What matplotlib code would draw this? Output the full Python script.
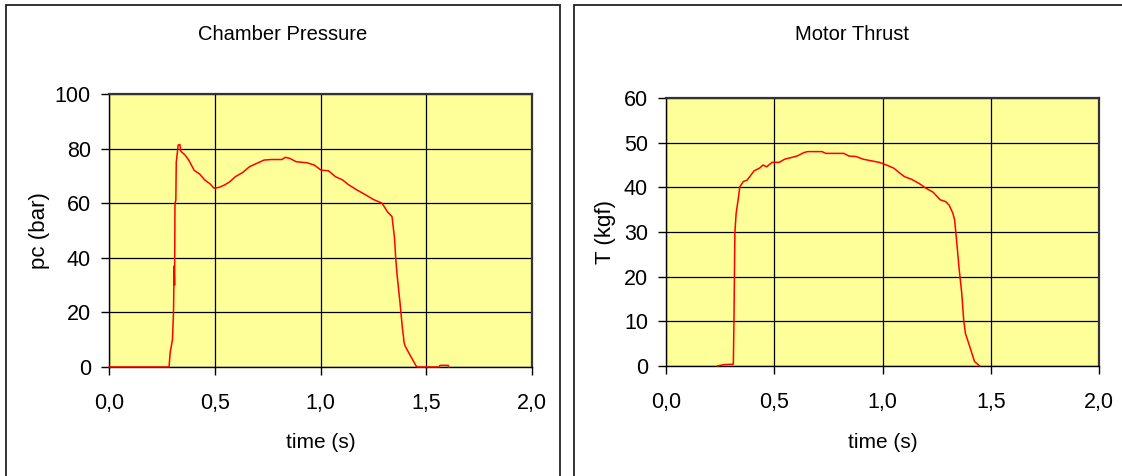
import matplotlib
matplotlib.use("Agg")
import matplotlib.pyplot as plt
from matplotlib.patches import Rectangle

# chamber pressure trace
pc_time = [0.0, 0.284, 0.289, 0.300, 0.305, 0.308, 0.310, 0.311, 0.312, 0.316, 0.318,
           0.327, 0.335, 0.340, 0.360, 0.377, 0.403, 0.428, 0.453, 0.479, 0.496,
           0.521, 0.547, 0.572, 0.597, 0.631, 0.665, 0.699, 0.733, 0.767, 0.817,
           0.834, 0.855, 0.885, 0.936, 0.970, 1.003, 1.037, 1.071, 1.105, 1.130,
           1.173, 1.215, 1.249, 1.291, 1.316, 1.338, 1.350, 1.355, 1.362, 1.376,
           1.387, 1.392, 1.395, 1.400, 1.426, 1.452, 1.460, 1.562, 1.565, 1.604, 1.606]
pc_bar = [0.0, 0.0, 5.2, 10.0, 20.0, 37.0, 30.0, 45.0, 60.0, 61.0, 75.0,
          81.3, 81.5, 79.0, 77.6, 75.8, 72.0, 70.7, 68.5, 67.0, 65.5,
          65.8, 66.7, 67.9, 69.7, 71.2, 73.4, 74.6, 75.8, 76.0, 76.0,
          76.8, 76.4, 75.2, 74.8, 74.0, 72.1, 71.9, 69.7, 68.5, 66.9,
          64.8, 63.0, 61.4, 60.0, 56.9, 55.1, 47.2, 40.5, 33.8, 23.5,
          14.4, 11.3, 9.0, 7.7, 4.0, 0.4, 0.0, 0.0, 0.6, 0.6, 0.0]

# motor thrust trace
thr_time = [0.238, 0.266, 0.311, 0.314, 0.318, 0.324, 0.333, 0.341, 0.357, 0.374,
            0.387, 0.407, 0.432, 0.448, 0.465, 0.490, 0.523, 0.548, 0.581, 0.605,
            0.638, 0.655, 0.721, 0.738, 0.821, 0.845, 0.878, 0.911, 0.952, 0.985,
            1.018, 1.052, 1.077, 1.101, 1.134, 1.168, 1.201, 1.234, 1.267, 1.292,
            1.308, 1.325, 1.333, 1.342, 1.353, 1.366, 1.375, 1.383, 1.408, 1.425, 1.449]
thr_kgf = [0.0, 0.3, 0.4, 10.3, 29.7, 34.2, 37.2, 40.1, 41.3, 41.6,
           42.4, 43.7, 44.3, 45.0, 44.6, 45.6, 45.6, 46.3, 46.7, 47.0,
           47.8, 48.0, 48.0, 47.6, 47.6, 47.0, 46.9, 46.3, 45.9, 45.6,
           45.0, 44.3, 43.3, 42.4, 41.8, 40.9, 39.8, 38.9, 37.2, 36.8,
           36.0, 34.2, 32.7, 28.2, 22.2, 16.3, 10.3, 7.3, 3.6, 1.0, 0.0]

x_ticks = [0.0, 0.5, 1.0, 1.5, 2.0]
x_labels = ["0,0", "0,5", "1,0", "1,5", "2,0"]
pc_ticks = [0, 20, 40, 60, 80, 100]
thr_ticks = [0, 10, 20, 30, 40, 50, 60]

font = ["Liberation Sans", "DejaVu Sans"]

W, H = 1122, 476
fig = plt.figure(figsize=(W / 100, H / 100), dpi=100)
fig.patch.set_facecolor("white")

# outer frames of the two chart objects
for x0, x1 in [(6, 560), (574, 1135)]:
    fig.patches.append(Rectangle((x0 / W, -0.05), (x1 - x0) / W, 1.05 - 5 / H,
                                 transform=fig.transFigure, fill=False,
                                 edgecolor="#222222", lw=1.3))


def setup(ax, t, v, yticks, ylabel, ylab_x, xlab_y):
    ax.set_facecolor("#FFFF99")
    ax.plot(t, v, color="#FF0000", lw=1.1, clip_on=False, zorder=3)
    ax.set_xlim(0, 2.0)
    ax.set_ylim(yticks[0], yticks[-1])
    ax.set_xticks(x_ticks)
    ax.set_xticklabels(x_labels, family=font, fontsize=15.5)
    ax.set_yticks(yticks)
    ax.set_yticklabels([str(y) for y in yticks], family=font, fontsize=15.5)
    ax.tick_params(axis="x", direction="out", length=6, width=1, pad=13)
    ax.tick_params(axis="y", direction="out", length=6, width=1, pad=7)
    ax.grid(True, color="black", lw=0.9)
    ax.set_axisbelow(True)
    for s in ax.spines.values():
        s.set_color("black")
        s.set_linewidth(1.0)
    for s in ("top", "right"):
        ax.spines[s].set_color("#333333")
        ax.spines[s].set_linewidth(1.6)
    ax.set_ylabel(ylabel, family=font, fontsize=16, va="center", ha="center")
    ax.yaxis.set_label_coords(ylab_x, 0.5)
    ax.set_xlabel("time (s)", family=font, fontsize=15, va="center")
    ax.xaxis.set_label_coords(0.5, xlab_y)


ax1 = fig.add_axes([109 / W, 1 - 367 / H, 423 / W, 273 / H])
setup(ax1, pc_time, pc_bar, pc_ticks, "pc (bar)", (39 - 109) / 423, (367 - 443) / 273)
fig.text(283 / W, 1 - 34 / H, "Chamber Pressure", family=font, fontsize=14.5,
         ha="center", va="center")

ax2 = fig.add_axes([666 / W, 1 - 366 / H, 433 / W, 268 / H])
setup(ax2, thr_time, thr_kgf, thr_ticks, "T (kgf)", (605 - 666) / 433, (366 - 443) / 268)
fig.text(852 / W, 1 - 34 / H, "Motor Thrust", family=font, fontsize=14.5,
         ha="center", va="center")

fig.savefig("out.png", dpi=100)
